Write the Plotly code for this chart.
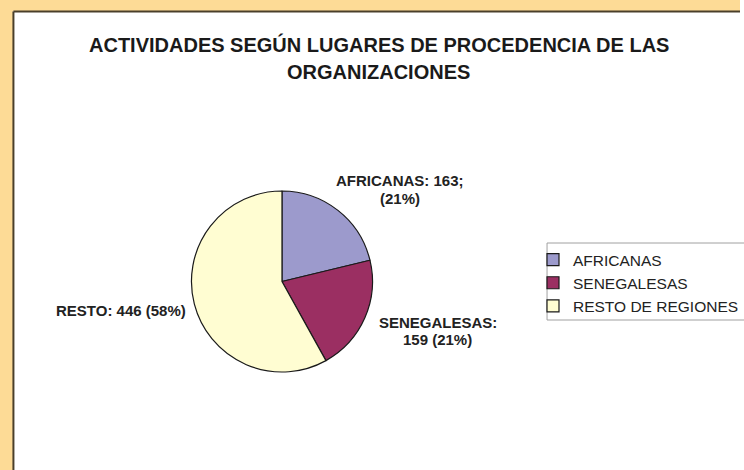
import plotly.graph_objects as go

categories = ["AFRICANAS", "SENEGALESAS", "RESTO DE REGIONES"]
values = [163, 159, 446]
colors = ["#9C9ACC", "#9B2F62", "#FFFDD2"]
label_lines = [["AFRICANAS: 163;", "(21%)"], ["SENEGALESAS:", "159 (21%)"], ["RESTO: 446 (58%)"]]
title_lines = ["ACTIVIDADES SEGÚN LUGARES DE PROCEDENCIA DE LAS", "ORGANIZACIONES"]

W, H = 744, 470
cx, cy, r = 283.5, 281.5, 91

fig = go.Figure(go.Pie(
    labels=categories, values=values, sort=False, direction="clockwise", rotation=0,
    marker=dict(colors=colors, line=dict(color="#1a1a1a", width=1.2)),
    textinfo="none", hoverinfo="label+value+percent",
    domain=dict(x=[(cx - r) / W, (cx + r) / W], y=[(H - cy - r) / H, (H - cy + r) / H]),
))

FONT = "Liberation Sans, Arial"
label_pos = [(402, 181), (440, 322), (122, 310)]
for lines, (x, y) in zip(label_lines, label_pos):
    for i, t in enumerate(lines):
        fig.add_annotation(x=x / W, y=1 - (y + 17.5 * i) / H, xref="paper", yref="paper",
                           text="<b>" + t + "</b>", showarrow=False,
                           font=dict(family=FONT, size=15, color="#222"),
                           xanchor="center", yanchor="middle", align="center")

for i, t in enumerate(title_lines):
    fig.add_annotation(x=381 / W, y=1 - (45 + 27 * i) / H, xref="paper", yref="paper",
                       text="<b>" + t + "</b>", showarrow=False,
                       font=dict(family=FONT, size=20, color="#1a1a1a"),
                       xanchor="center", yanchor="middle", align="center")

frame = "#FDDB96"
fig.add_shape(type="rect", xref="paper", yref="paper", x0=0, x1=13 / W, y0=0, y1=1,
              fillcolor=frame, line=dict(width=0), layer="above")
fig.add_shape(type="rect", xref="paper", yref="paper", x0=0, x1=1, y0=1 - 11 / H, y1=1,
              fillcolor=frame, line=dict(width=0), layer="above")
fig.add_shape(type="line", xref="paper", yref="paper", x0=13.5 / W, x1=13.5 / W, y0=0, y1=1 - 11.5 / H,
              line=dict(color="#4a3f2a", width=2), layer="above")
fig.add_shape(type="line", xref="paper", yref="paper", x0=13.5 / W, x1=1, y0=1 - 11.5 / H, y1=1 - 11.5 / H,
              line=dict(color="#4a3f2a", width=2), layer="above")
# legend box border
fig.add_shape(type="rect", xref="paper", yref="paper", x0=550 / W, x1=1.01, y0=1 - 320 / H, y1=1 - 243 / H,
              fillcolor="rgba(0,0,0,0)", line=dict(color="#a0a0a0", width=1), layer="above")

fig.update_layout(
    width=W, height=H, margin=dict(l=0, r=0, t=0, b=0),
    paper_bgcolor="white", plot_bgcolor="white",
    showlegend=True,
    legend=dict(x=536 / W, y=1 - 243 / H, xanchor="left", yanchor="top",
                borderwidth=0, bgcolor="rgba(0,0,0,0)",
                font=dict(family=FONT, size=15.5, color="#222"),
                itemwidth=30, tracegroupgap=0),
)

fig.write_html("out.html", config={"displayModeBar": False},
               post_script="document.body.style.margin='0';document.body.style.overflow='hidden';")
